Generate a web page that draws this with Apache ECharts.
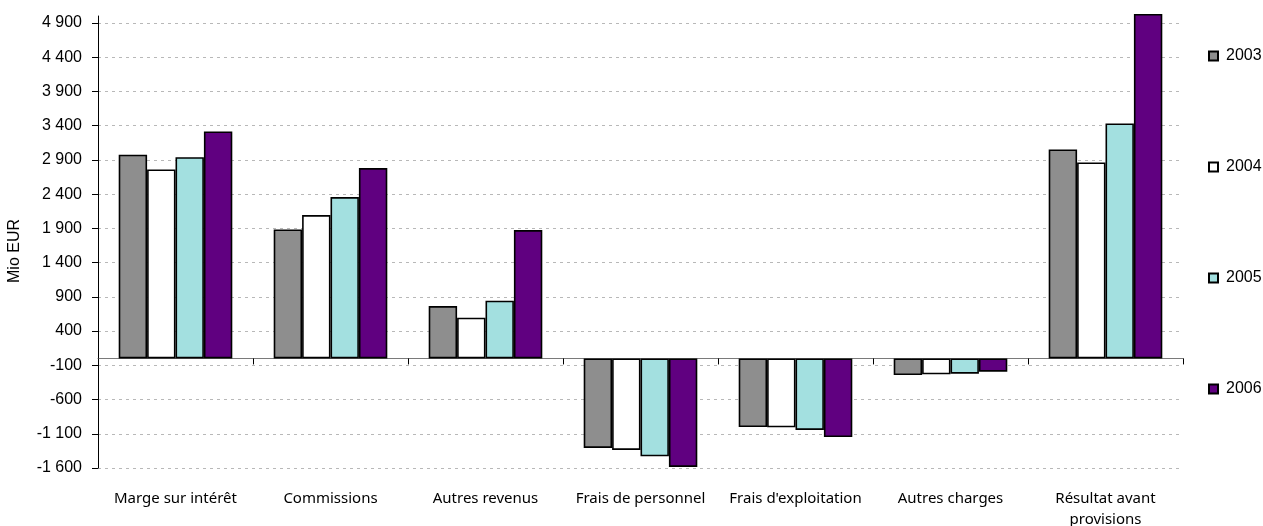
<!DOCTYPE html>
<html>
<head>
<meta charset="utf-8">
<script src="https://cdn.jsdelivr.net/npm/echarts@6/dist/echarts.min.js"></script>
<style>
    html, body { margin: 0; padding: 0; background: #fff; }
    #chart { width: 1263px; height: 526px; }
</style>
</head>
<body>
<div id="chart"></div>
<script>
// catégories et valeurs (Mio EUR)
var categories = ['Marge sur intérêt', 'Commissions', 'Autres revenus', 'Frais de personnel', "Frais d'exploitation", 'Autres charges', 'Résultat avant\nprovisions'];
var years = ['2003', '2004', '2005', '2006'];
var v2003 = [2974, 1884, 765, -1307, -1001, -243, 3051];
var v2004 = [2759, 2093, 595, -1336, -1005, -232, 2862];
var v2005 = [2939, 2356, 843, -1429, -1044, -222, 3431];
var v2006 = [3314, 2779, 1874, -1584, -1147, -193, 5031];
var yMin = -1600;
var yMaxTick = 4900;
var yStep = 500;

var colors = ['#8e8e8e', '#ffffff', '#a3e0e0', '#600080'];
var values = [v2003, v2004, v2005, v2006];

var myChart = echarts.init(document.getElementById('chart'));

function fmt(v) {
    var s = String(Math.abs(v)).replace(/\B(?=(\d{3})+(?!\d))/g, ' ');
    return (v < 0 ? '-' : '') + s;
}

var series = years.map(function (y, i) {
    return {
        name: y,
        type: 'bar',
        xAxisIndex: 0,
        yAxisIndex: 0,
        data: values[i],
        barGap: '0%',
        barCategoryGap: '26.7%',
        clip: false,
        itemStyle: { color: colors[i], borderColor: '#000', borderWidth: 1.6 },
        emphasis: { disabled: true }
    };
});

var option = {
    animation: false,
    textStyle: { fontFamily: 'Liberation Sans' },
    legend: {
        orient: 'vertical',
        left: 1203,
        top: 43,
        itemWidth: 9,
        itemHeight: 9,
        itemGap: 95,
        icon: 'rect',
        textStyle: { fontSize: 16, color: '#000', padding: [0, 0, 0, 3] },
        data: years
    },
    grid: [
        { left: 98, right: 80, top: 16, bottom: 58, outerBoundsMode: 'none' },
        { left: 98, right: 80, top: 23, bottom: 58, outerBoundsMode: 'none' }
    ],
    xAxis: [
        {
            type: 'category',
            gridIndex: 0,
            data: categories,
            axisLine: { onZero: true, lineStyle: { color: '#7a7a7a', width: 1 } },
            axisTick: { show: true, length: 6, lineStyle: { color: '#000' } },
            axisLabel: { show: false },
            splitLine: { show: false }
        },
        {
            type: 'category',
            gridIndex: 1,
            data: categories,
            axisLine: { show: false },
            axisTick: { show: false },
            axisLabel: {
                margin: 20,
                fontSize: 15,
                color: '#000',
                fontFamily: 'Noto Sans',
                lineHeight: 21,
                interval: 0
            },
            splitLine: { show: false }
        }
    ],
    yAxis: [
        {
            type: 'value',
            gridIndex: 0,
            min: yMin,
            max: yMaxTick + 100,
            interval: yStep,
            name: 'Mio EUR',
            nameLocation: 'middle',
            nameGap: 75,
            nameRotate: 90,
            nameTextStyle: { fontSize: 16, color: '#000', padding: [0, 18, 0, 0] },
            axisLine: { show: true, lineStyle: { color: '#000', width: 1 } },
            axisTick: { show: false },
            axisLabel: { show: false },
            splitLine: { show: false }
        },
        {
            type: 'value',
            gridIndex: 1,
            min: yMin,
            max: yMaxTick,
            interval: yStep,
            axisLine: { show: false },
            axisTick: { show: true, length: 6, lineStyle: { color: '#000' } },
            axisLabel: {
                fontSize: 16,
                color: '#000',
                margin: 16,
                formatter: function (v) { return fmt(v); }
            },
            splitLine: { show: true, lineStyle: { color: '#b8b8b8', type: [3, 4], width: 1 } }
        }
    ],
    series: series
};

myChart.setOption(option);
</script>
</body>
</html>
